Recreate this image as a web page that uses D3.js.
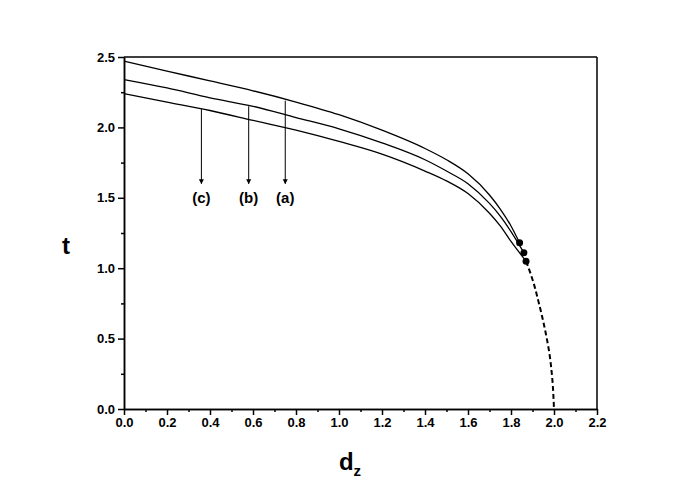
<!DOCTYPE html><html><head><script src="https://cdn.jsdelivr.net/npm/d3@7"></script>
<style>body{margin:0;background:#fff}</style></head><body><svg id="c" width="694" height="491"></svg><script>
const dz=[0,0.2,0.4,0.6,0.8,1.0,1.2,1.4,1.5,1.6,1.7,1.75,1.8];
const curveA=[2.47,2.40,2.33,2.26,2.18,2.09,1.98,1.85,1.77,1.67,1.52,1.42,1.30];
const curveB=[2.34,2.28,2.21,2.15,2.07,1.99,1.89,1.77,1.69,1.60,1.46,1.37,1.26];
const curveC=[2.24,2.18,2.12,2.05,1.98,1.90,1.81,1.69,1.62,1.53,1.39,1.30,1.19];
const ends=[[1.84,1.18],[1.86,1.11],[1.87,1.05]];
const dashDz=[1.87,1.9,1.93,1.96,1.98,1.99,2.0];
const dashT=[1.05,0.92,0.75,0.55,0.38,0.25,0];
const labels=[{t:"(a)",x:0.75,y0:2.19},{t:"(b)",x:0.58,y0:2.15},{t:"(c)",x:0.36,y0:2.13}];
const xTicks=d3.range(0,2.21,0.2), yTicks=d3.range(0,2.51,0.5);
const svg=d3.select("#c");
const x=d3.scaleLinear([0,2.2],[124,597]), y=d3.scaleLinear([0,2.5],[409,57]);
const font="Liberation Sans, Arial, sans-serif";
svg.append("defs").append("marker").attr("id","ar").attr("viewBox","0 0 10 10").attr("refX",9).attr("refY",5)
 .attr("markerWidth",5).attr("markerHeight",7).attr("orient","auto").append("path").attr("d","M0,0L10,5L0,10z");
const xa=svg.append("g").attr("transform","translate(0,409)").call(d3.axisBottom(x).tickValues(xTicks).tickFormat(d3.format(".1f")).tickSize(6).tickSizeOuter(0));
const xm=svg.append("g").attr("transform","translate(0,409)").call(d3.axisBottom(x).tickValues(d3.range(0.1,2.2,0.2)).tickFormat("").tickSize(3).tickSizeOuter(0));
const ya=svg.append("g").attr("transform","translate(124,0)").call(d3.axisLeft(y).tickValues(yTicks).tickFormat(d3.format(".1f")).tickSize(6).tickSizeOuter(0));
const ym=svg.append("g").attr("transform","translate(124,0)").call(d3.axisLeft(y).tickValues(d3.range(0.25,2.5,0.5)).tickFormat("").tickSize(3).tickSizeOuter(0));
[xa,ya,xm,ym].forEach(g=>{g.selectAll("path,line").attr("stroke","#000").attr("stroke-width",1.5);g.selectAll("text").attr("font-family",font).attr("font-weight","bold").attr("font-size",13).attr("fill","#000");});
svg.append("line").attr("x1",124).attr("x2",597).attr("y1",57).attr("y2",57).attr("stroke","#000").attr("stroke-width",1.5);
svg.append("line").attr("x1",597).attr("x2",597).attr("y1",57).attr("y2",409).attr("stroke","#000").attr("stroke-width",1.5);
const line=d3.line().x(d=>x(d[0])).y(d=>y(d[1])).curve(d3.curveMonotoneX);
[curveA,curveB,curveC].forEach((c,i)=>{
 const pts=dz.map((d,j)=>[d,c[j]]).concat([ends[i]]);
 svg.append("path").attr("d",line(pts)).attr("fill","none").attr("stroke","#000").attr("stroke-width",1.3);
 svg.append("circle").attr("cx",x(ends[i][0])).attr("cy",y(ends[i][1])).attr("r",3.5);
});
svg.append("path").attr("d",d3.line().x(d=>x(d[0])).y(d=>y(d[1])).curve(d3.curveMonotoneY)(dashDz.map((d,j)=>[d,dashT[j]])))
 .attr("fill","none").attr("stroke","#000").attr("stroke-width",2).attr("stroke-dasharray","5,3");
labels.forEach(l=>{
 svg.append("line").attr("x1",x(l.x)).attr("x2",x(l.x)).attr("y1",y(l.y0)).attr("y2",y(1.6)).attr("stroke","#000").attr("marker-end","url(#ar)");
 svg.append("text").attr("x",x(l.x)).attr("y",y(1.5)+5).attr("text-anchor","middle").attr("font-family",font).attr("font-weight","bold").attr("font-size",15).text(l.t);
});
svg.append("text").attr("x",66).attr("y",254).attr("text-anchor","middle").attr("font-family",font).attr("font-weight","bold").attr("font-size",24).text("t");
const dl=svg.append("text").attr("x",350).attr("y",470).attr("text-anchor","middle").attr("font-family",font).attr("font-weight","bold").attr("font-size",24).text("d");
dl.append("tspan").attr("font-size",15).attr("dy",6).text("z");
</script></body></html>
